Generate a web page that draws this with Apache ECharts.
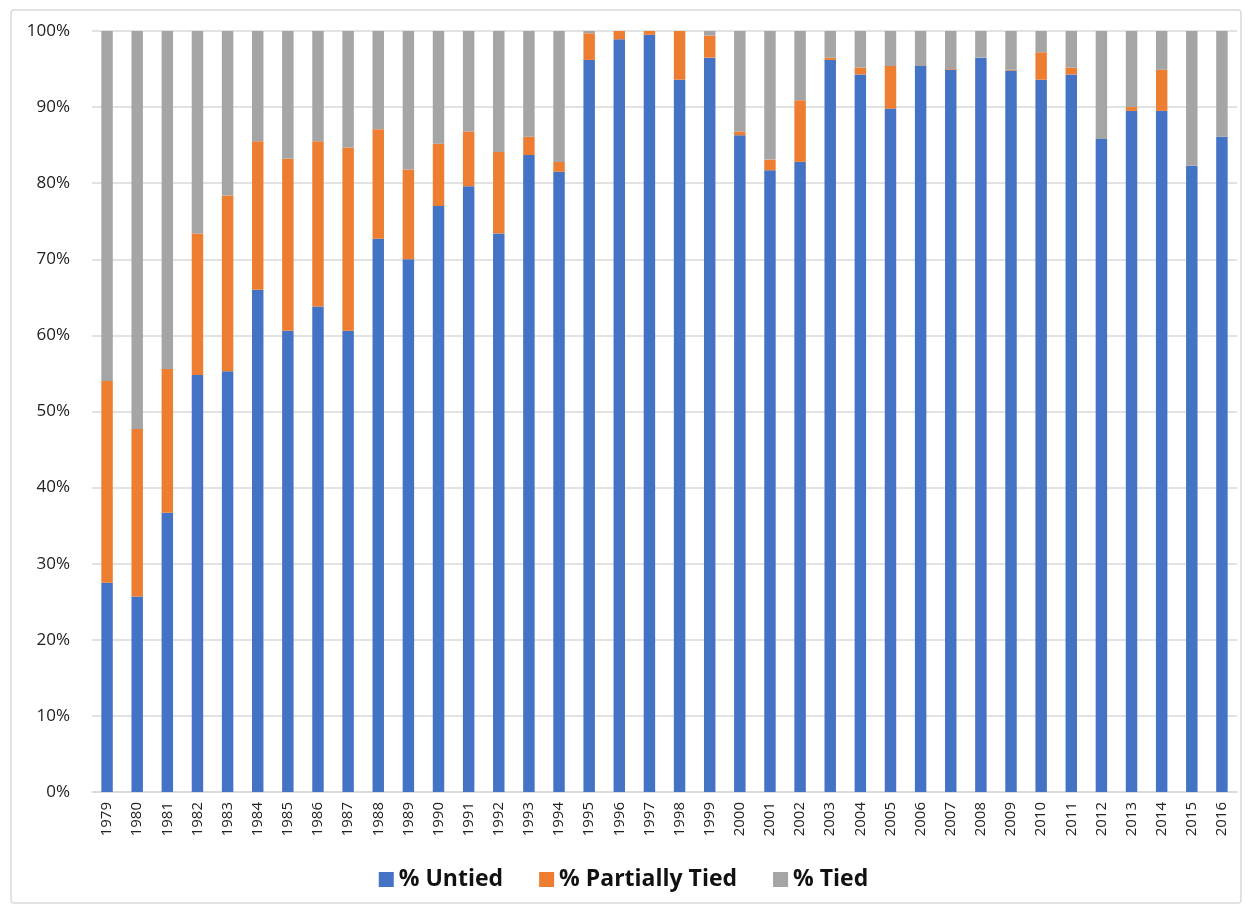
<!DOCTYPE html>
<html><head><meta charset="utf-8">
<script src="https://cdn.jsdelivr.net/npm/echarts@6/dist/echarts.min.js"></script>
<style>html,body{margin:0;padding:0;background:#fff}#c{width:1247px;height:908px}</style>
</head><body><div id="c"></div>
<script>
const years = ['1979','1980','1981','1982','1983','1984','1985','1986','1987','1988','1989','1990','1991','1992','1993','1994','1995','1996','1997','1998','1999','2000','2001','2002','2003','2004','2005','2006','2007','2008','2009','2010','2011','2012','2013','2014','2015','2016'];
const untied = [27.5,25.7,36.7,54.8,55.3,66.0,60.6,63.8,60.6,72.7,70.0,77.0,79.6,73.4,83.7,81.5,96.2,98.9,99.5,93.6,96.5,86.3,81.7,82.8,96.2,94.3,89.8,95.4,94.9,96.5,94.8,93.6,94.3,85.8,89.5,89.5,82.3,86.1];
const partiallyTied = [26.5,22.0,18.9,18.6,23.1,19.5,22.6,21.7,24.1,14.4,11.8,8.2,7.2,10.7,2.4,1.3,3.5,1.1,0.5,6.4,2.9,0.5,1.4,8.1,0.3,0.9,5.6,0,0.1,0,0.1,3.6,0.9,0,0.5,5.4,0,0];
const tied = untied.map((u,i)=>+(100-u-partiallyTied[i]).toFixed(1));
const yTicks = [0,10,20,30,40,50,60,70,80,90,100];

const chart = echarts.init(document.getElementById('c'));
const font = '"Open Sans", sans-serif';
const mk = (name, data, color) => ({name, type:'bar', stack:'s', data, barWidth:'38%', itemStyle:{color}});
chart.setOption({
  animation:false,
  graphic:[{type:'rect', shape:{x:11,y:10,width:1230,height:893,r:3}, style:{fill:'none',stroke:'#D9D9D9',lineWidth:1.5}, silent:true, z:-1}],
  grid:{left:92,right:10,top:31,bottom:116},
  legend:{bottom:12, left:'center', itemWidth:15, itemHeight:15, itemGap:36, icon:'rect',
    textStyle:{fontFamily:font, fontWeight:'bold', fontSize:23, color:'#111'},
    data:['% Untied','% Partially Tied','% Tied']},
  xAxis:{type:'category', data:years,
    axisLine:{lineStyle:{color:'#D9D9D9',width:1.5}}, axisTick:{show:false},
    axisLabel:{rotate:90, fontFamily:font, fontSize:15, color:'#222', margin:10}},
  yAxis:{type:'value', min:0, max:100, interval:10,
    axisLine:{show:false}, axisTick:{show:false},
    splitLine:{lineStyle:{color:'#D9D9D9',width:1.5}},
    axisLabel:{fontFamily:font, fontSize:17, color:'#222', margin:22, formatter:v=>v+'%'}},
  series:[mk('% Untied',untied,'#4472C4'), mk('% Partially Tied',partiallyTied,'#ED7D31'), mk('% Tied',tied,'#A5A5A5')]
});
</script></body></html>
